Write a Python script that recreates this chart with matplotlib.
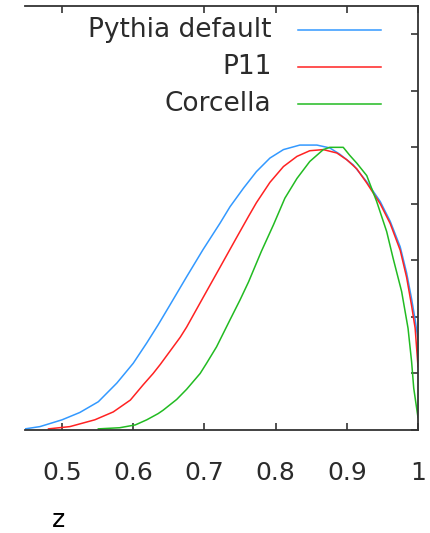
import matplotlib
matplotlib.use("Agg")
import matplotlib.pyplot as plt
from matplotlib.lines import Line2D

plt.rcParams.update({
    "font.family": ["DejaVu Sans"],
    "font.size": 18,
    "text.color": "#2b2b2b",
    "axes.edgecolor": "#333333",
    "xtick.color": "#333333",
    "ytick.color": "#333333",
    "xtick.labelcolor": "#2b2b2b",
})

# ---------------------------------------------------------------- data
z_pythia = [0.448, 0.469, 0.500, 0.525, 0.551, 0.577, 0.600, 0.619, 0.635, 0.652,
            0.675, 0.698, 0.722, 0.736, 0.755, 0.773, 0.792, 0.811, 0.834, 0.858,
            0.876, 0.890, 0.909, 0.928, 0.947, 0.961, 0.975, 0.984, 0.991, 0.996,
            1.0]
y_pythia = [0.02, 0.06, 0.18, 0.31, 0.50, 0.83, 1.18, 1.54, 1.86, 2.22,
            2.71, 3.19, 3.66, 3.95, 4.28, 4.57, 4.81, 4.96, 5.04, 5.04,
            4.99, 4.88, 4.69, 4.39, 4.04, 3.69, 3.24, 2.78, 2.32, 1.95,
            1.60]

z_p11 = [0.481, 0.511, 0.546, 0.572, 0.596, 0.614, 0.628, 0.638, 0.652, 0.666,
         0.675, 0.698, 0.722, 0.745, 0.762, 0.773, 0.792, 0.811, 0.830, 0.848,
         0.867, 0.886, 0.900, 0.914, 0.928, 0.947, 0.961, 0.975, 0.984, 0.991,
         0.996, 1.0]
y_p11 = [0.02, 0.06, 0.18, 0.32, 0.53, 0.80, 1.00, 1.16, 1.40, 1.64,
         1.82, 2.34, 2.88, 3.40, 3.78, 4.02, 4.38, 4.66, 4.84, 4.94,
         4.96, 4.90, 4.78, 4.62, 4.37, 4.00, 3.65, 3.18, 2.70, 2.20,
         1.80, 1.12]

z_corcella = [0.551, 0.581, 0.603, 0.619, 0.635, 0.642, 0.661, 0.675, 0.694, 0.703,
              0.717, 0.736, 0.750, 0.762, 0.780, 0.797, 0.813, 0.830, 0.848, 0.867,
              0.876, 0.895, 0.904, 0.914, 0.928, 0.942, 0.956, 0.965, 0.977, 0.986,
              0.991, 0.994, 1.0]
y_corcella = [0.02, 0.04, 0.09, 0.18, 0.29, 0.35, 0.54, 0.72, 1.00, 1.18,
              1.47, 1.95, 2.30, 2.62, 3.16, 3.63, 4.10, 4.45, 4.75, 4.96,
              5.00, 5.00, 4.86, 4.72, 4.50, 4.04, 3.51, 3.04, 2.45, 1.80,
              1.21, 0.74, 0.22]

labels = ["Pythia default", "P11", "Corcella"]
colors = ["#3399ff", "#ff2222", "#22bb22"]
x_ticks = [0.5, 0.6, 0.7, 0.8, 0.9, 1.0]
x_ticklabels = ["0.5", "0.6", "0.7", "0.8", "0.9", "1"]
y_ticks = [0, 1, 2, 3, 4, 5, 6, 7]

# ---------------------------------------------------------------- plot
fig = plt.figure(figsize=(4.31, 5.33), dpi=100)
ax = fig.add_axes([25 / 431, 103 / 533, 393 / 431, 424 / 533])

series = [(z_pythia, y_pythia), (z_p11, y_p11), (z_corcella, y_corcella)]
for (zz, yy), c in zip(series, colors):
    ax.plot(zz, yy, color=c, linewidth=1.1)

ax.set_xlim(0.448, 1.0)
ax.set_ylim(0, 7.5)

ax.spines["left"].set_visible(False)
for s in ["top", "right", "bottom"]:
    ax.spines[s].set_linewidth(1.3)

ax.set_xticks(x_ticks)
ax.set_xticklabels(x_ticklabels)
ax.tick_params(axis="x", direction="in", top=True, bottom=True, length=5,
               width=1.2, pad=22, labelsize=18)
ax.set_yticks(y_ticks)
ax.tick_params(axis="y", direction="in", left=False, right=True, labelleft=False,
               labelright=False, length=5, width=1.2)
# top tick under the legend is hidden
ax.xaxis.get_major_ticks()[1].tick2line.set_visible(False)

ax.set_xlabel("z", fontsize=18, va="center")
ax.xaxis.set_label_coords(0.084, -0.212)

# legend: right-aligned text with line sample on the right
for i, (lab, c) in enumerate(zip(labels, colors)):
    yy = 0.944 - i * 0.087
    ax.text(0.627, yy, lab, transform=ax.transAxes, ha="right", va="center",
            fontsize=19)
    ax.add_line(Line2D([0.694, 0.906], [yy, yy], transform=ax.transAxes,
                       color=c, linewidth=1.1))

fig.savefig("out.png", dpi=100)
